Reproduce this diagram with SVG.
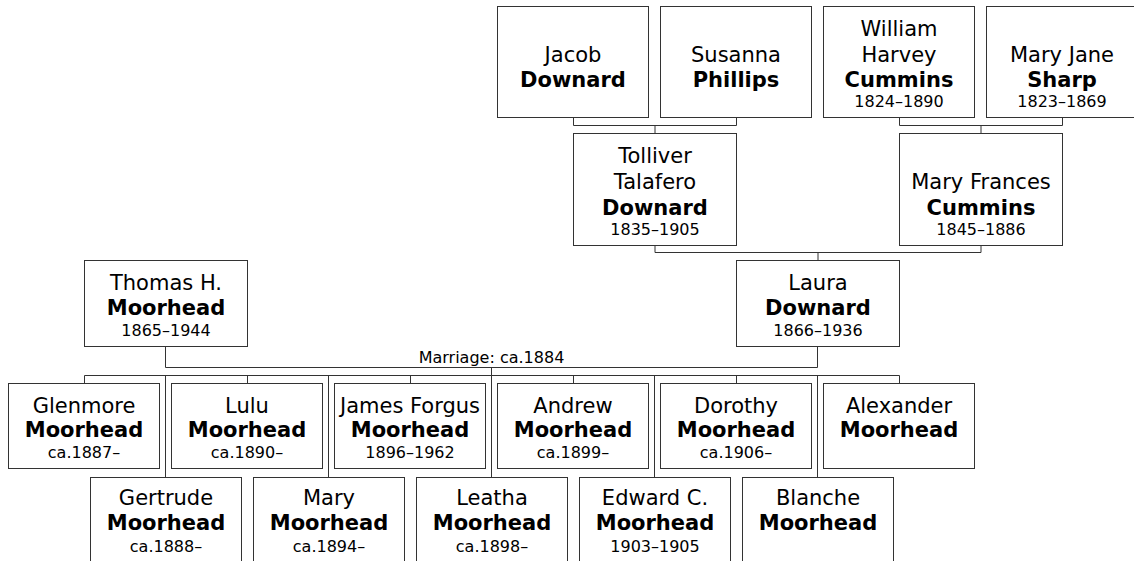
<svg xmlns="http://www.w3.org/2000/svg" width="1134" height="561" viewBox="0 0 1134 561">
<style>
  .box{fill:#fff;stroke:#333;stroke-width:1}
  .ln{fill:none;stroke:#333;stroke-width:1}
  text{font-family:"DejaVu Sans","Verdana",sans-serif;fill:#000;text-anchor:middle}
  .n{font-size:21px}
  .s{font-size:21px;font-weight:bold}
  .d{font-size:16px}
</style>
<rect width="1134" height="561" fill="#fff"/>
<g id="connectors" class="ln">
  <path d="M573.5 117.5V125.5H736.5V117.5M655 125.5V133.5"/>
  <path d="M899.5 117.5V125.5H1062.5V117.5M981 125.5V133.5"/>
  <path d="M655 245.5V252.5H981V245.5M818 252.5V260.5"/>
  <path d="M165.5 346.5V367.5H817.5V346.5"/>
  <path d="M491.5 367.5V477.5"/>
  <path d="M84.5 383.5V375.5H899.5V383.5"/>
  <path d="M247.5 375.5V383.5M410.5 375.5V383.5M573.5 375.5V383.5M736.5 375.5V383.5"/>
  <path d="M165.5 375.5V477.5M328.5 375.5V477.5M654.5 375.5V477.5M817.5 375.5V477.5"/>
</g>
<text class="d" x="491.5" y="363">Marriage: ca.1884</text>

<g id="jacob"><rect class="box" x="497.5" y="6.5" width="151" height="111"/>
<text class="n" x="573" y="62">Jacob</text><text class="s" x="573" y="87">Downard</text></g>
<g id="susanna"><rect class="box" x="660.5" y="6.5" width="151" height="111"/>
<text class="n" x="736" y="62">Susanna</text><text class="s" x="736" y="87">Phillips</text></g>
<g id="william"><rect class="box" x="823.5" y="6.5" width="151" height="111"/>
<text class="n" x="899" y="36">William</text><text class="n" x="899" y="62">Harvey</text><text class="s" x="899" y="87">Cummins</text><text class="d" x="899" y="107">1824–1890</text></g>
<g id="maryjane"><rect class="box" x="986.5" y="6.5" width="151" height="111"/>
<text class="n" x="1062" y="62">Mary Jane</text><text class="s" x="1062" y="87">Sharp</text><text class="d" x="1062" y="107">1823–1869</text></g>

<g id="tolliver"><rect class="box" x="573.5" y="133.5" width="163" height="112"/>
<text class="n" x="655" y="163">Tolliver</text><text class="n" x="655" y="189">Talafero</text><text class="s" x="655" y="215">Downard</text><text class="d" x="655" y="235">1835–1905</text></g>
<g id="maryfrances"><rect class="box" x="899.5" y="133.5" width="163" height="112"/>
<text class="n" x="981" y="189">Mary Frances</text><text class="s" x="981" y="215">Cummins</text><text class="d" x="981" y="235">1845–1886</text></g>

<g id="thomas"><rect class="box" x="84.5" y="260.5" width="163" height="86"/>
<text class="n" x="166" y="289.5">Thomas H.</text><text class="s" x="166" y="315">Moorhead</text><text class="d" x="166" y="335.5">1865–1944</text></g>
<g id="laura"><rect class="box" x="736.5" y="260.5" width="163" height="86"/>
<text class="n" x="818" y="289.5">Laura</text><text class="s" x="818" y="315">Downard</text><text class="d" x="818" y="335.5">1866–1936</text></g>

<g id="glenmore"><rect class="box" x="8.5" y="383.5" width="151" height="85"/>
<text class="n" x="84" y="412.5">Glenmore</text><text class="s" x="84" y="437">Moorhead</text><text class="d" x="84" y="458">ca.1887–</text></g>
<g id="lulu"><rect class="box" x="171.5" y="383.5" width="151" height="85"/>
<text class="n" x="247" y="412.5">Lulu</text><text class="s" x="247" y="437">Moorhead</text><text class="d" x="247" y="458">ca.1890–</text></g>
<g id="james"><rect class="box" x="334.5" y="383.5" width="151" height="85"/>
<text class="n" x="410" y="412.5">James Forgus</text><text class="s" x="410" y="437">Moorhead</text><text class="d" x="410" y="458">1896–1962</text></g>
<g id="andrew"><rect class="box" x="497.5" y="383.5" width="151" height="85"/>
<text class="n" x="573" y="412.5">Andrew</text><text class="s" x="573" y="437">Moorhead</text><text class="d" x="573" y="458">ca.1899–</text></g>
<g id="dorothy"><rect class="box" x="660.5" y="383.5" width="151" height="85"/>
<text class="n" x="736" y="412.5">Dorothy</text><text class="s" x="736" y="437">Moorhead</text><text class="d" x="736" y="458">ca.1906–</text></g>
<g id="alexander"><rect class="box" x="823.5" y="383.5" width="151" height="85"/>
<text class="n" x="899" y="412.5">Alexander</text><text class="s" x="899" y="437">Moorhead</text></g>

<g id="gertrude"><rect class="box" x="90.5" y="477.5" width="151" height="85"/>
<text class="n" x="166" y="505">Gertrude</text><text class="s" x="166" y="530">Moorhead</text><text class="d" x="166" y="551.5">ca.1888–</text></g>
<g id="mary"><rect class="box" x="253.5" y="477.5" width="151" height="85"/>
<text class="n" x="329" y="505">Mary</text><text class="s" x="329" y="530">Moorhead</text><text class="d" x="329" y="551.5">ca.1894–</text></g>
<g id="leatha"><rect class="box" x="416.5" y="477.5" width="151" height="85"/>
<text class="n" x="492" y="505">Leatha</text><text class="s" x="492" y="530">Moorhead</text><text class="d" x="492" y="551.5">ca.1898–</text></g>
<g id="edward"><rect class="box" x="579.5" y="477.5" width="151" height="85"/>
<text class="n" x="655" y="505">Edward C.</text><text class="s" x="655" y="530">Moorhead</text><text class="d" x="655" y="551.5">1903–1905</text></g>
<g id="blanche"><rect class="box" x="742.5" y="477.5" width="151" height="85"/>
<text class="n" x="818" y="505">Blanche</text><text class="s" x="818" y="530">Moorhead</text></g>
</svg>
